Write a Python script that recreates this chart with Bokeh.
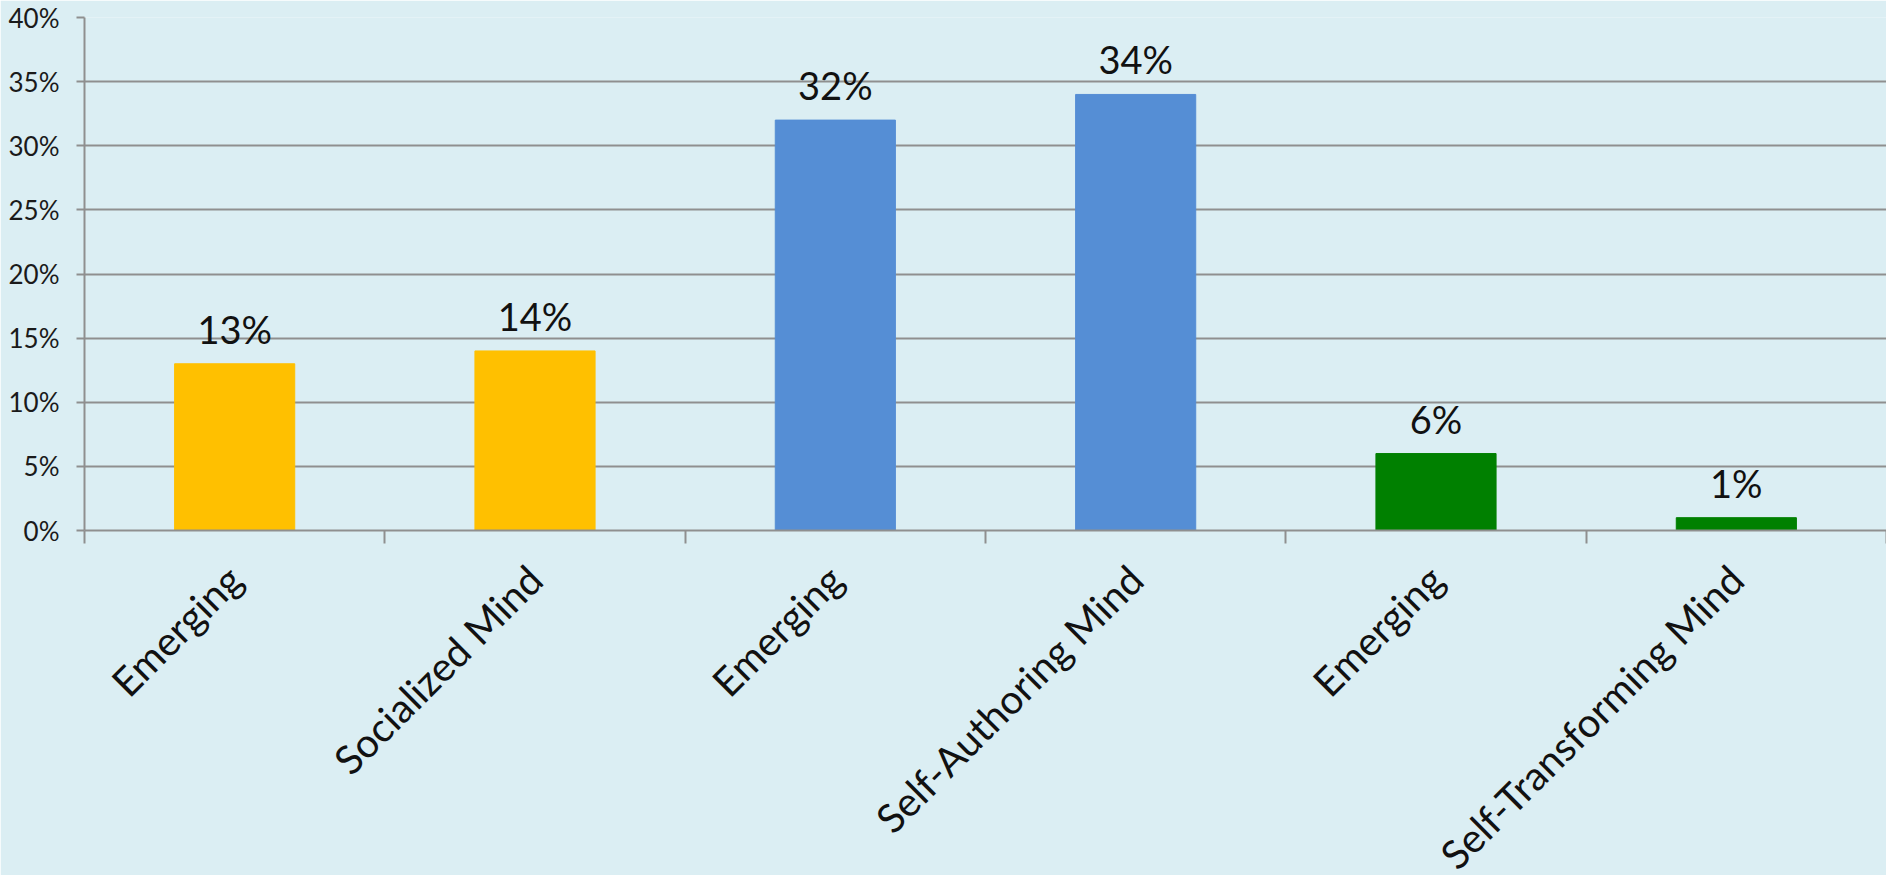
import math
from bokeh.plotting import figure
from bokeh.models import (ColumnDataSource, Range1d, LinearAxis,
                          FixedTicker, NumeralTickFormatter, CustomJSTickFormatter, LabelSet)
from bokeh.core.properties import value
from bokeh.embed import file_html
from bokeh.resources import INLINE

# ---- data ----
categories = ["Emerging", "Socialized Mind", "Emerging", "Self-Authoring Mind",
              "Emerging", "Self-Transforming Mind"]
values = [0.13, 0.14, 0.32, 0.34, 0.06, 0.01]
value_labels = ["13%", "14%", "32%", "34%", "6%", "1%"]
bar_colors = ["#FFC000", "#FFC000", "#558ED5", "#558ED5", "#008000", "#008000"]
y_ticks = [0.0, 0.05, 0.10, 0.15, 0.20, 0.25, 0.30, 0.35, 0.40]

BG = "#DBEEF3"
GRID = "#8F8F8F"
FONT = "Lato"

n = len(categories)
slot_centers = [i + 0.5 for i in range(n)]
src = ColumnDataSource(dict(x=slot_centers, val=values, lab=value_labels, col=bar_colors))

p = figure(frame_width=1802, frame_height=513, x_range=Range1d(0, n),
           y_range=Range1d(0, 0.40), output_backend="svg", toolbar_location=None,
           x_axis_location=None, min_border_left=84, min_border_top=17,
           min_border_right=0, min_border_bottom=0)
p.background_fill_color = BG
p.border_fill_color = BG
p.outline_line_color = None

p.vbar(x="x", top="val", width=0.4, color="col", source=src)

labels = LabelSet(x="x", y="val", text="lab", source=src, y_offset=20,
                  text_align="center", text_baseline="alphabetic",
                  text_font=value(FONT), text_font_size="38px", text_color="#111111")
p.add_layout(labels)

# y axis
ya = p.yaxis[0]
ya.ticker = FixedTicker(ticks=y_ticks)
ya.formatter = NumeralTickFormatter(format="0%")
ya.axis_line_color = GRID
ya.axis_line_width = 2
ya.major_tick_line_color = GRID
ya.major_tick_line_width = 2
ya.major_tick_out = 8
ya.major_tick_in = 0
ya.minor_tick_line_color = None
ya.major_label_text_font = FONT
ya.major_label_text_font_size = "26px"
ya.major_label_text_color = "#1a1a1a"
ya.major_label_standoff = 17

p.xgrid.grid_line_color = None
p.ygrid.grid_line_color = GRID
p.ygrid.grid_line_width = 2

# x axis: boundary ticks (no labels)
tick_axis = LinearAxis(ticker=FixedTicker(ticks=list(range(n + 1))),
                       formatter=CustomJSTickFormatter(code="return ''"))
tick_axis.axis_line_color = GRID
tick_axis.axis_line_width = 2
tick_axis.major_tick_line_color = GRID
tick_axis.major_tick_line_width = 2
tick_axis.major_tick_out = 13
tick_axis.major_tick_in = 0
tick_axis.minor_tick_line_color = None
tick_axis.major_label_standoff = 0
tick_axis.major_label_text_font_size = "1px"
p.add_layout(tick_axis, "below")

# x axis: category names at slot centres
cat_axis = LinearAxis(ticker=FixedTicker(ticks=slot_centers),
                      formatter=CustomJSTickFormatter(args=dict(names=categories),
                                                      code="return names[Math.floor(tick)]"))
cat_axis.axis_line_color = None
cat_axis.major_tick_line_color = None
cat_axis.minor_tick_line_color = None
cat_axis.major_tick_out = 0
cat_axis.major_tick_in = 0
cat_axis.major_label_orientation = math.pi / 4
cat_axis.major_label_text_font = FONT
cat_axis.major_label_text_font_size = "40px"
cat_axis.major_label_text_color = "#111111"
cat_axis.major_label_standoff = 29
p.add_layout(cat_axis, "below")

html = file_html(p, INLINE)
html = html.replace("<body>", '<body style="background:%s; overflow:hidden">' % BG, 1)
open("out.html", "w").write(html)
